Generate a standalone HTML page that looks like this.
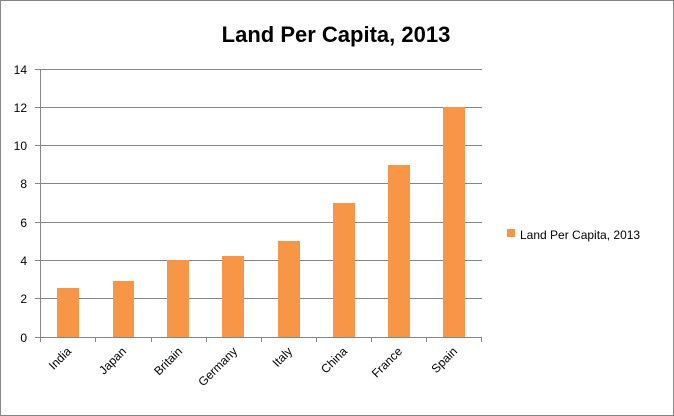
<!DOCTYPE html>
<html><head><style>body{margin:0;background:#fff}svg{display:block}</style></head><body>
<svg width="674" height="416" xmlns="http://www.w3.org/2000/svg" font-family="Liberation Sans, sans-serif">
<rect x="0.5" y="0.5" width="673" height="415" fill="#fff" stroke="#868686"/>
<text x="336" y="42" font-size="22" font-weight="bold" text-anchor="middle" fill="#000">Land Per Capita, 2013</text>
<g stroke="#868686" stroke-width="1">
<line x1="35" y1="69.5" x2="482" y2="69.5"/>
<line x1="35" y1="107.5" x2="482" y2="107.5"/>
<line x1="35" y1="145.5" x2="482" y2="145.5"/>
<line x1="35" y1="183.5" x2="482" y2="183.5"/>
<line x1="35" y1="222.5" x2="482" y2="222.5"/>
<line x1="35" y1="260.5" x2="482" y2="260.5"/>
<line x1="35" y1="298.5" x2="482" y2="298.5"/>
<line x1="35" y1="337.5" x2="482" y2="337.5"/>
<line x1="40.5" y1="69" x2="40.5" y2="342"/>
<line x1="95.5" y1="337" x2="95.5" y2="342"/>
<line x1="151.5" y1="337" x2="151.5" y2="342"/>
<line x1="206.5" y1="337" x2="206.5" y2="342"/>
<line x1="261.5" y1="337" x2="261.5" y2="342"/>
<line x1="316.5" y1="337" x2="316.5" y2="342"/>
<line x1="371.5" y1="337" x2="371.5" y2="342"/>
<line x1="426.5" y1="337" x2="426.5" y2="342"/>
<line x1="481.5" y1="337" x2="481.5" y2="342"/>
</g>
<g font-size="12" text-anchor="end" fill="#000">
<text x="27" y="74">14</text><text x="27" y="112">12</text><text x="27" y="150">10</text>
<text x="27" y="188">8</text><text x="27" y="227">6</text><text x="27" y="265">4</text>
<text x="27" y="303">2</text><text x="27" y="342">0</text>
</g>
<g fill="#f79646">
<rect x="57" y="288" width="22" height="49"/>
<rect x="113" y="281" width="21" height="56"/>
<rect x="167" y="260" width="22" height="77"/>
<rect x="222" y="256" width="22" height="81"/>
<rect x="278" y="241" width="22" height="96"/>
<rect x="333" y="203" width="22" height="134"/>
<rect x="388" y="165" width="22" height="172"/>
<rect x="443" y="107" width="22" height="230"/>
</g>
<g font-size="12" text-anchor="end" fill="#000">
<text transform="translate(72,352) rotate(-45)">India</text>
<text transform="translate(127,352) rotate(-45)">Japan</text>
<text transform="translate(183,352) rotate(-45)">Britain</text>
<text transform="translate(238,352) rotate(-45)">Germany</text>
<text transform="translate(293,352) rotate(-45)">Italy</text>
<text transform="translate(348,352) rotate(-45)">China</text>
<text transform="translate(403,352) rotate(-45)">France</text>
<text transform="translate(458,352) rotate(-45)">Spain</text>
</g>
<rect x="507" y="229" width="8" height="8" fill="#f79646"/>
<text x="520" y="239" font-size="12" fill="#000">Land Per Capita, 2013</text>
</svg>
</body></html>
